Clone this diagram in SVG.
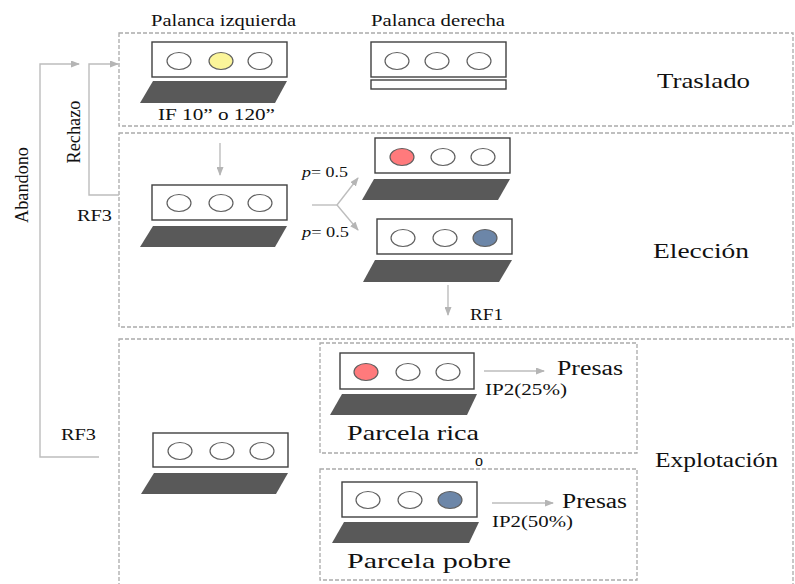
<svg xmlns="http://www.w3.org/2000/svg" width="795" height="584" viewBox="0 0 795 584">
  <style>
    text { font-family: "Liberation Serif", "Times New Roman", serif; fill: #111; }
    .phase { fill: none; stroke: #aaa; stroke-width: 1.3; stroke-dasharray: 4 2; }
    .panel { fill: #fff; stroke: #404040; stroke-width: 1.4; }
    .tray { fill: #595959; stroke: none; }
    .key { fill: #fff; stroke: #606060; stroke-width: 1.2; }
    .yellow { fill: #fbf59a; }
    .red { fill: #ff7a7c; }
    .blue { fill: #6c86a8; }
    .link { fill: none; stroke: #bdbdbd; stroke-width: 1.4; }
    .arrow { marker-end: url(#head); }
  </style>
  <defs>
    <marker id="head" markerUnits="userSpaceOnUse" markerWidth="9" markerHeight="7" refX="8" refY="3.5" orient="auto">
      <path d="M0,0 L9,3.5 L0,7 z" fill="#b5b5b5"/>
    </marker>
  </defs>

  <!-- phase frames -->
  <g id="phases">
    <rect class="phase" x="119" y="33" width="674" height="93"/>
    <rect class="phase" x="119" y="133" width="674" height="194"/>
    <rect class="phase" x="119" y="339" width="674" height="260"/>
    <rect class="phase" x="320" y="343" width="317" height="110"/>
    <rect class="phase" x="320" y="469" width="317" height="111"/>
  </g>

  <!-- column headers -->
  <text x="151" y="26" font-size="16" textLength="145" lengthAdjust="spacingAndGlyphs">Palanca izquierda</text>
  <text x="371" y="26" font-size="16" textLength="134" lengthAdjust="spacingAndGlyphs">Palanca derecha</text>

  <!-- phase labels -->
  <text x="657" y="88" font-size="22" textLength="93" lengthAdjust="spacingAndGlyphs">Traslado</text>
  <text x="653" y="258" font-size="22" textLength="96" lengthAdjust="spacingAndGlyphs">Elección</text>
  <text x="655" y="467" font-size="22" textLength="123" lengthAdjust="spacingAndGlyphs">Explotación</text>

  <!-- connectors -->
  <g id="connectors">
    <path class="link arrow" d="M99,457 H40 V64 H79"/>
    <path class="link arrow" d="M119,195 H89 V64 H118"/>
    <path class="link arrow" d="M220,143 V175"/>
    <path class="link" d="M312,205 H337"/>
    <path class="link arrow" d="M337,205 L358,178"/>
    <path class="link arrow" d="M337,205 L358,230"/>
    <path class="link arrow" d="M448,285 V315"/>
    <path class="link arrow" d="M484,371 H544"/>
    <path class="link arrow" d="M492,503 H553"/>
  </g>

  <!-- connector labels -->
  <text transform="translate(28,185) rotate(-90)" text-anchor="middle" font-size="18" textLength="76" lengthAdjust="spacingAndGlyphs">Abandono</text>
  <text transform="translate(80,132) rotate(-90)" text-anchor="middle" font-size="18" textLength="63" lengthAdjust="spacingAndGlyphs">Rechazo</text>
  <text x="77" y="221" font-size="16" textLength="35" lengthAdjust="spacingAndGlyphs">RF3</text>
  <text x="61" y="440" font-size="16" textLength="35" lengthAdjust="spacingAndGlyphs">RF3</text>
  <text x="302" y="177" font-size="15" textLength="46" lengthAdjust="spacingAndGlyphs"><tspan font-style="italic">p</tspan>= 0.5</text>
  <text x="302" y="237" font-size="15" textLength="47" lengthAdjust="spacingAndGlyphs"><tspan font-style="italic">p</tspan>= 0.5</text>
  <text x="470" y="320" font-size="16" textLength="33" lengthAdjust="spacingAndGlyphs">RF1</text>
  <text x="475" y="466" font-size="16">o</text>

  <!-- Traslado: left lever -->
  <g id="traslado-izquierda">
    <rect class="panel" x="152" y="42" width="135" height="35"/>
    <ellipse class="key" cx="179" cy="61" rx="12" ry="8.5"/>
    <ellipse class="key yellow" cx="221" cy="61" rx="12" ry="8.5"/>
    <ellipse class="key" cx="260" cy="61" rx="12" ry="8.5"/>
    <polygon class="tray" points="153,81 287,81 275,103 140,103"/>
    <text x="158" y="120" font-size="16" textLength="117" lengthAdjust="spacingAndGlyphs">IF 10” o 120”</text>
  </g>

  <!-- Traslado: right lever -->
  <g id="traslado-derecha">
    <rect class="panel" x="371" y="42" width="135" height="35"/>
    <ellipse class="key" cx="397" cy="61" rx="12" ry="8.5"/>
    <ellipse class="key" cx="437" cy="61" rx="12" ry="8.5"/>
    <ellipse class="key" cx="479" cy="61" rx="12" ry="8.5"/>
    <rect class="panel" x="371" y="80" width="135" height="9" stroke-width="1.2"/>
  </g>

  <!-- Elección: start -->
  <g id="eleccion-inicio">
    <rect class="panel" x="152" y="185" width="135" height="35"/>
    <ellipse class="key" cx="179" cy="203" rx="12" ry="8.5"/>
    <ellipse class="key" cx="221" cy="203" rx="12" ry="8.5"/>
    <ellipse class="key" cx="260" cy="203" rx="12" ry="8.5"/>
    <polygon class="tray" points="153,226 287,226 275,247 140,247"/>
  </g>

  <!-- Elección: red option -->
  <g id="eleccion-rojo">
    <rect class="panel" x="375" y="138" width="135" height="35"/>
    <ellipse class="key red" cx="402" cy="157" rx="12" ry="8.5"/>
    <ellipse class="key" cx="443" cy="157" rx="12" ry="8.5"/>
    <ellipse class="key" cx="483" cy="157" rx="12" ry="8.5"/>
    <polygon class="tray" points="374,179 510,179 498,200 362,200"/>
  </g>

  <!-- Elección: blue option -->
  <g id="eleccion-azul">
    <rect class="panel" x="377" y="219" width="135" height="35"/>
    <ellipse class="key" cx="403" cy="238" rx="12" ry="8.5"/>
    <ellipse class="key" cx="445" cy="238" rx="12" ry="8.5"/>
    <ellipse class="key blue" cx="485" cy="238" rx="12" ry="8.5"/>
    <polygon class="tray" points="375,260 512,260 499,282 363,282"/>
  </g>

  <!-- Explotación: start -->
  <g id="explotacion-inicio">
    <rect class="panel" x="153" y="433" width="135" height="34"/>
    <ellipse class="key" cx="180" cy="451" rx="12" ry="8.5"/>
    <ellipse class="key" cx="222" cy="451" rx="12" ry="8.5"/>
    <ellipse class="key" cx="262" cy="451" rx="12" ry="8.5"/>
    <polygon class="tray" points="154,473 288,473 276,494 141,494"/>
  </g>

  <!-- Explotación: rich patch -->
  <g id="parcela-rica">
    <rect class="panel" x="340" y="353" width="134" height="36"/>
    <ellipse class="key red" cx="366" cy="372" rx="12" ry="8.5"/>
    <ellipse class="key" cx="408" cy="372" rx="12" ry="8.5"/>
    <ellipse class="key" cx="448" cy="372" rx="12" ry="8.5"/>
    <polygon class="tray" points="342,394 477,394 467,415 330,415"/>
    <text x="347" y="440" font-size="22" textLength="132" lengthAdjust="spacingAndGlyphs">Parcela rica</text>
    <text x="557" y="375" font-size="20" textLength="66" lengthAdjust="spacingAndGlyphs">Presas</text>
    <text x="485" y="395" font-size="16" textLength="82" lengthAdjust="spacingAndGlyphs">IP2(25%)</text>
  </g>

  <!-- Explotación: poor patch -->
  <g id="parcela-pobre">
    <rect class="panel" x="342" y="482" width="135" height="35"/>
    <ellipse class="key" cx="368" cy="500" rx="12" ry="8.5"/>
    <ellipse class="key" cx="410" cy="500" rx="12" ry="8.5"/>
    <ellipse class="key blue" cx="450" cy="500" rx="12" ry="8.5"/>
    <polygon class="tray" points="344,522 479,522 469,543 332,543"/>
    <text x="347" y="568" font-size="22" textLength="164" lengthAdjust="spacingAndGlyphs">Parcela pobre</text>
    <text x="562" y="508" font-size="20" textLength="65" lengthAdjust="spacingAndGlyphs">Presas</text>
    <text x="492" y="527" font-size="16" textLength="81" lengthAdjust="spacingAndGlyphs">IP2(50%)</text>
  </g>
</svg>
